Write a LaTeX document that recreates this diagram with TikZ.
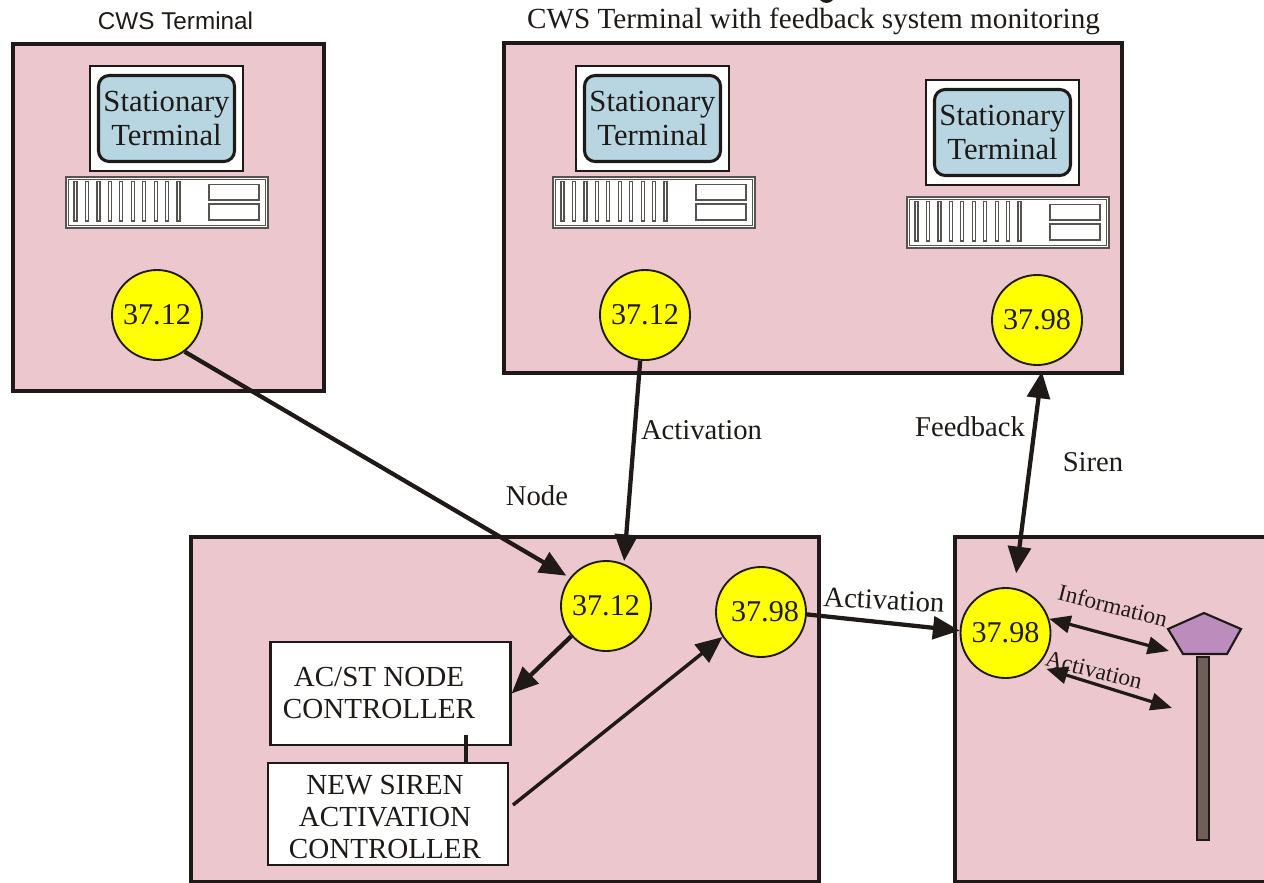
\documentclass[tikz,border=0pt]{standalone}
\usepackage{fontspec}
\setmainfont{Liberation Serif}
\newfontfamily\arialfont{Liberation Sans}
\usetikzlibrary{arrows.meta}
\definecolor{pinkbg}{HTML}{ECC8CE}
\definecolor{screenblue}{HTML}{B8D6E2}
\definecolor{ink}{HTML}{1F1A17}
\definecolor{penta}{HTML}{BC8CBC}
\definecolor{pole}{HTML}{6E6058}
\definecolor{numfill}{HTML}{FFFF00}
\newcommand{\fsz}[1]{\fontsize{#1}{#1}\selectfont}
\newcommand{\fszl}[2]{\fontsize{#1}{#2}\selectfont}
\tikzset{
  x=0.75pt,y=-0.75pt,
  panel/.style={draw=ink,fill=pinkbg,line width=3pt},
  whitebox/.style={draw=ink,fill=white,line width=1.6pt,inner sep=0pt},
  screen/.style={draw=ink,fill=screenblue,line width=2.3pt,rounded corners=8pt,minimum width=102pt,minimum height=64.5pt,inner sep=0pt,align=center,text=ink,font={\fszl{23}{25.5}}},
  num/.style={circle,draw=ink,fill=numfill,line width=1.4pt,minimum size=67.5pt,inner sep=0pt,text=ink,font=\fsz{22.6}},
  lbl/.style={text=ink,font=\fsz{21.5},inner sep=0pt},
  small/.style={text=ink,font=\fsz{17.5},inner sep=0pt},
  boxtext/.style={text=ink,font={\fszl{21.8}{24.3}},align=center,inner sep=0pt},
  big/.style={draw=ink,line width=3.2pt,-{Triangle[length=20pt,width=17pt]}},
  bigboth/.style={draw=ink,line width=3.2pt,{Triangle[length=20pt,width=17pt]}-{Triangle[length=20pt,width=17pt]}},
  thinboth/.style={draw=ink,line width=2.4pt,{Triangle[length=16pt,width=13pt]}-{Triangle[length=16pt,width=13pt]}},
  serverpart/.style={draw=ink!75,fill=white,line width=0.9pt}
}
\newcommand{\monitorunit}[3]{%
  \node[draw=ink,fill=white,line width=1.5pt,minimum width=114.5pt,minimum height=78.5pt,inner sep=0pt] (#1frame) at (#2,#3) {};
  \node[screen] (#1screen) at (#2,#3) {Stationary\\Terminal};
}
\newcommand{\serverunit}[3]{%
  \begin{scope}[shift={(#2,#3)}]
    \path[serverpart] (0,0) rectangle (202,51);
    \path[serverpart] (2.5,2.5) rectangle (199.5,48.5);
    \foreach \i in {0,...,9}{
      \path[serverpart] (8+11.45*\i,4.5) rectangle (11+11.45*\i,44);
    }
    \path[serverpart] (143,7.5) rectangle (193,23);
    \path[serverpart] (143,27) rectangle (193,43);
  \end{scope}
}
\begin{document}
\begin{tikzpicture}
\useasboundingbox (0,0) rectangle (1264,882);
\fill[white] (0,0) rectangle (1264,882);
\fill[ink] (820,0) .. controls (824,4) and (829,4) .. (833,0) -- cycle;

% panels
\path[panel] (12.5,44) rectangle (324,391);
\path[panel] (503.5,42.5) rectangle (1122,373);
\path[panel] (190.5,537) rectangle (819,882);
\path[panel] (954.5,537) rectangle (1272,882);

% titles
\node[text=ink,font=\arialfont\fsz{18.2},inner sep=0pt] (t1) at (175.5,21) {CWS Terminal};
\node[text=ink,font=\fsz{21.9},inner sep=0pt] (t2) at (813.5,21.5) {CWS Terminal with feedback system monitoring};

% terminals
\monitorunit{ma}{166.5}{118.5}
\serverunit{sa}{66}{177}
\monitorunit{mb}{652.5}{118.5}
\serverunit{sb}{553}{177}
\monitorunit{mc}{1002.5}{132.5}
\serverunit{sc}{907}{197}

% circles
\node[num] (c1) at (157,315) {37.12};
\node[num] (c2) at (645,315) {37.12};
\node[num] (c3) at (1037,320) {37.98};
\node[num] (c4) at (606,606) {37.12};
\node[num] (c5) at (761,612) {\hspace*{6pt}37.98};
\node[num] (c6) at (1005.5,633) {37.98};

% controller boxes
\node[whitebox,minimum width=180pt,minimum height=77pt] (a) at (390.5,693.5) {};
\node[boxtext] (atext) at (379,693) {AC/ST NODE\\CONTROLLER};
\node[whitebox,minimum width=180pt,minimum height=77pt] (b) at (388,814) {};
\node[boxtext] (btext) at (385,817) {NEW SIREN\\ACTIVATION\\CONTROLLER};
\coordinate (aj) at (466,735);
\coordinate (bj) at (466,762);
\draw[ink,line width=3pt] (aj) -- (bj);

% siren
\path[draw=ink,fill=pole,line width=1.6pt] (1197,657) rectangle (1209,840);
\path[draw=ink,fill=penta,line width=1.6pt] (1168,629) -- (1204,613) -- (1241,629) -- (1227,654) -- (1183,654) -- cycle;

% connectors
\coordinate (bs) at (513,805);
\coordinate (sinfo) at (1169,651);
\coordinate (sact) at (1172,708);
\draw[big,shorten >=3pt] (c1.-53) -- (c4.142);
\draw[big,shorten >=2pt] (c2.-96) -- (c4.67);
\draw[bigboth,shorten <=4.5pt,shorten >=11pt] (c3.-83) -- (c6.79);
\draw[big] (c4.221) -- (a.east);
\draw[big,line width=2.6pt] (bs) -- (c5.213);
\draw[big] (c5.-3) -- (c6.177);
\draw[thinboth] (c6.18) -- (sinfo);
\draw[thinboth,shorten <=7pt] (c6.-46) -- (sact);

% labels
\node[lbl] (l1) at (701.5,430) {Activation};
\node[lbl] (l2) at (970,427) {Feedback};
\node[lbl] (l3) at (1093,462) {Siren};
\node[lbl] (l4) at (537,496) {Node};
\node[lbl,rotate=-3] (l5) at (884,600) {Activation};
\node[small,rotate=-14] (l6) at (1113,605.5) {Information};
\node[small,rotate=-14] (l7) at (1094,670) {Activation};
\end{tikzpicture}
\end{document}
